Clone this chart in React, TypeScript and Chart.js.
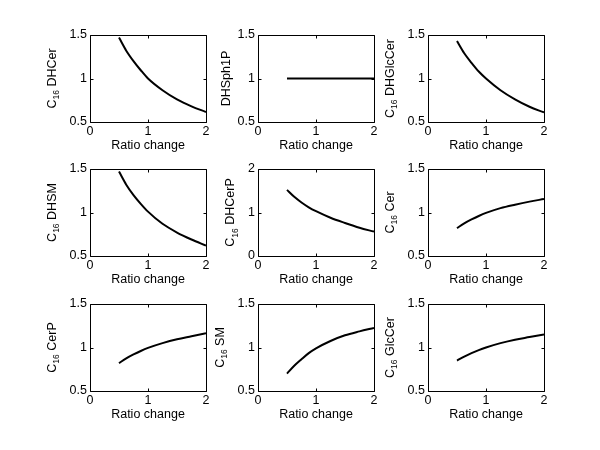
import React, { useEffect, useRef } from "react";
import { Chart, registerables } from "chart.js";

Chart.register(...registerables);

// ---- data ----
const ratioChange = [0.5, 0.625, 0.75, 0.875, 1, 1.25, 1.5, 1.75, 2];
const dhCer = [1.47, 1.32, 1.2, 1.095, 1.0, 0.865, 0.76, 0.68, 0.615];
const dhSph1P = [1, 1, 1, 1, 1, 1, 1, 1, 1];
const dhGlcCer = [1.43, 1.29, 1.18, 1.08, 1.0, 0.865, 0.76, 0.675, 0.61];
const dhSM = [1.47, 1.32, 1.2, 1.1, 1.01, 0.87, 0.77, 0.69, 0.62];
const dhCerP = [1.52, 1.36, 1.23, 1.12, 1.03, 0.88, 0.76, 0.65, 0.56];
const cer = [0.82, 0.875, 0.92, 0.96, 0.995, 1.05, 1.09, 1.125, 1.155];
const cerP = [0.82, 0.875, 0.92, 0.96, 0.995, 1.05, 1.095, 1.13, 1.165];
const sm = [0.7, 0.79, 0.865, 0.935, 0.99, 1.075, 1.14, 1.185, 1.225];
const glcCer = [0.85, 0.895, 0.935, 0.97, 1.0, 1.05, 1.09, 1.12, 1.15];

const panelSeries = [dhCer, dhSph1P, dhGlcCer, dhSM, dhCerP, cer, cerP, sm, glcCer];
const panelPrefix = ["C", "", "C", "C", "C", "C", "C", "C", "C"];
const panelSubscript = ["16", "", "16", "16", "16", "16", "16", "16", "16"];
const panelNames = ["DHCer", "DHSph1P", "DHGlcCer", "DHSM", "DHCerP", "Cer", "CerP", "SM", "GlcCer"];
const panelYMin = [0.5, 0.5, 0.5, 0.5, 0, 0.5, 0.5, 0.5, 0.5];
const panelYMax = [1.5, 1.5, 1.5, 1.5, 2, 1.5, 1.5, 1.5, 1.5];
const panelYStep = [0.5, 0.5, 0.5, 0.5, 1, 0.5, 0.5, 0.5, 0.5];
const xMin = 0;
const xMax = 2;
const xStep = 1;
const xAxisTitle = "Ratio change";

// ---- layout ----
const PAGE_W = 600;
const PAGE_H = 450;
const colLeft = [90, 258, 428];
const rowTop = [35, 169, 304];
const plotW = 116;
const plotH = 87;
const Y_AXIS_W = 40;
const X_AXIS_H = 22;
const FONT_FAMILY = "Arial, 'Liberation Sans', sans-serif";
const FONT_SIZE = 12.5;
const SUB_SIZE = 8.5;

const matlabAxes = {
  id: "matlabAxes",
  afterDraw(chart: any, _args: any, opts: any) {
    const ctx = chart.ctx as CanvasRenderingContext2D;
    const { left, top, right, bottom } = chart.chartArea;
    const xs = chart.scales.x;
    const ys = chart.scales.y;
    ctx.save();
    // box
    ctx.strokeStyle = "#000";
    ctx.lineWidth = 1;
    const L = Math.round(left) + 0.5;
    const T = Math.round(top) + 0.5;
    const R = Math.round(right) + 0.5;
    const B = Math.round(bottom) + 0.5;
    ctx.beginPath();
    ctx.rect(L, T, R - L, B - T);
    ctx.stroke();
    // inward ticks
    const tl = 3;
    ctx.beginPath();
    xs.ticks.forEach((t: any) => {
      const px = Math.round(xs.getPixelForValue(t.value)) + 0.5;
      ctx.moveTo(px, B);
      ctx.lineTo(px, B - tl);
      ctx.moveTo(px, T);
      ctx.lineTo(px, T + tl);
    });
    ys.ticks.forEach((t: any) => {
      const py = Math.round(ys.getPixelForValue(t.value)) + 0.5;
      ctx.moveTo(L, py);
      ctx.lineTo(L + tl, py);
      ctx.moveTo(R, py);
      ctx.lineTo(R - tl, py);
    });
    ctx.stroke();

    // x title
    ctx.fillStyle = "#000";
    ctx.font = `${FONT_SIZE}px ${FONT_FAMILY}`;
    ctx.textAlign = "center";
    ctx.textBaseline = "alphabetic";
    ctx.fillText(xAxisTitle, (left + right) / 2, bottom + 26.5);

    // y title (rotated, with subscript)
    let maxW = 0;
    ys.ticks.forEach((t: any) => {
      maxW = Math.max(maxW, ctx.measureText(String(t.label)).width);
    });
    const tickLeft = left - 3 - maxW;
    const hasSub = !!opts.sub;
    const bx = tickLeft - (hasSub ? 14 : 8);
    const cy = (top + bottom) / 2;
    const mainFont = `${FONT_SIZE}px ${FONT_FAMILY}`;
    const subFont = `${SUB_SIZE}px ${FONT_FAMILY}`;
    ctx.font = mainFont;
    const wPre = opts.prefix ? ctx.measureText(opts.prefix).width : 0;
    const restText = (hasSub ? " " : "") + opts.name;
    const wRest = ctx.measureText(restText).width;
    ctx.font = subFont;
    const wSub = hasSub ? ctx.measureText(opts.sub).width : 0;
    const total = wPre + wSub + wRest;
    ctx.translate(bx, cy);
    ctx.rotate(-Math.PI / 2);
    ctx.textAlign = "left";
    let x = -total / 2;
    if (opts.prefix) {
      ctx.font = mainFont;
      ctx.fillText(opts.prefix, x, 0);
      x += wPre;
    }
    if (hasSub) {
      ctx.font = subFont;
      ctx.fillText(opts.sub, x, 3.5);
      x += wSub;
    }
    ctx.font = mainFont;
    ctx.fillText(restText, x, 0);
    ctx.restore();
  },
};

const fmt = (v: any) => String(Number(v));

function Panel({ index }: { index: number }) {
  const ref = useRef<HTMLCanvasElement | null>(null);
  useEffect(() => {
    const canvas = ref.current;
    if (!canvas) return;
    const r = Math.floor(index / 3);
    const c = index % 3;
    const left = colLeft[c];
    const top = rowTop[r];
    const series = panelSeries[index];
    const chart = new Chart(canvas, {
      type: "line",
      data: {
        datasets: [
          {
            data: ratioChange.map((x, i) => ({ x, y: series[i] })),
            borderColor: "#000",
            borderWidth: 2,
            pointRadius: 0,
            cubicInterpolationMode: "monotone",
            fill: false,
          },
        ],
      },
      options: {
        animation: false,
        responsive: false,
        events: [],
        layout: {
          padding: {
            left: left - Y_AXIS_W,
            top: top,
            right: PAGE_W - left - plotW,
            bottom: PAGE_H - top - plotH - X_AXIS_H,
          },
        },
        plugins: {
          legend: { display: false },
          tooltip: { enabled: false },
          matlabAxes: {
            prefix: panelPrefix[index],
            sub: panelSubscript[index],
            name: panelNames[index],
          },
        } as any,
        scales: {
          x: {
            type: "linear",
            min: xMin,
            max: xMax,
            afterFit: (s: any) => {
              s.height = X_AXIS_H;
            },
            grid: { display: false, drawTicks: false },
            border: { display: false },
            ticks: {
              stepSize: xStep,
              padding: 2,
              maxRotation: 0,
              autoSkip: false,
              color: "#000",
              callback: fmt,
              font: { family: FONT_FAMILY, size: FONT_SIZE },
            },
          },
          y: {
            type: "linear",
            min: panelYMin[index],
            max: panelYMax[index],
            afterFit: (s: any) => {
              s.width = Y_AXIS_W;
            },
            grid: { display: false, drawTicks: false },
            border: { display: false },
            ticks: {
              stepSize: panelYStep[index],
              padding: 3,
              autoSkip: false,
              color: "#000",
              callback: fmt,
              font: { family: FONT_FAMILY, size: FONT_SIZE },
            },
          },
        },
      },
      plugins: [matlabAxes],
    } as any);
    return () => chart.destroy();
  }, [index]);
  return (
    <canvas
      ref={ref}
      width={PAGE_W}
      height={PAGE_H}
      style={{ position: "absolute", left: 0, top: 0, width: PAGE_W, height: PAGE_H }}
    />
  );
}

export default function App() {
  return (
    <div
      style={{
        position: "fixed",
        left: 0,
        top: 0,
        width: PAGE_W,
        height: PAGE_H,
        background: "#fff",
        overflow: "hidden",
      }}
    >
      {panelSeries.map((_, i) => (
        <Panel key={i} index={i} />
      ))}
    </div>
  );
}
